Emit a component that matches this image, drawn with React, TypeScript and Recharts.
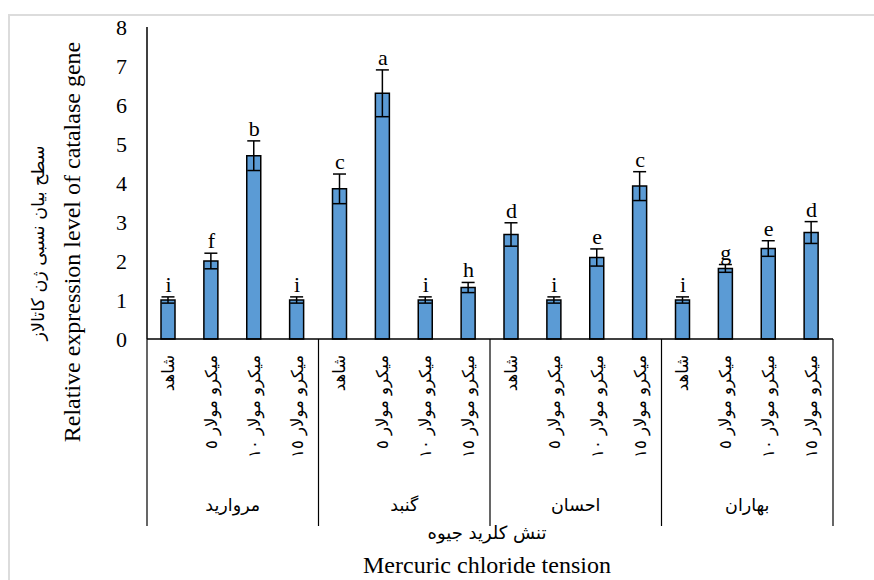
import React from 'react';
import { BarChart, Bar, Line, XAxis, YAxis, ErrorBar, LabelList } from 'recharts';

// cultivars (groups) and mercuric chloride treatments
const groups = ['مروارید', 'گنبد', 'احسان', 'بهاران'];
const treatments = ['شاهد', 'میکرو مولار ٥', 'میکرو مولار ١٠', 'میکرو مولار ١٥'];

// relative expression, standard error and Duncan letters, in group order
const expression = [1.0, 2.0, 4.7, 1.0, 3.85, 6.3, 1.0, 1.32, 2.68, 1.0, 2.09, 3.92, 1.0, 1.81, 2.32, 2.73];
const errors = [0.08, 0.2, 0.38, 0.08, 0.38, 0.6, 0.08, 0.13, 0.3, 0.08, 0.22, 0.37, 0.08, 0.1, 0.2, 0.28];
const letters = ['i', 'f', 'b', 'i', 'c', 'a', 'i', 'h', 'd', 'i', 'e', 'c', 'i', 'g', 'e', 'd'];

const yTicks = [0, 1, 2, 3, 4, 5, 6, 7, 8];

const SERIF = '"Liberation Serif", "Times New Roman", serif';
const PERSIAN = '"DejaVu Sans", sans-serif';

const W = 874;
const H = 580;
const MARGIN = { top: 27, right: 41, left: 0, bottom: 0 };
const Y_AXIS_W = 147;
const TICK_AXIS_H = 150;
const GROUP_AXIS_H = 91;
const PLOT_W = W - MARGIN.left - MARGIN.right - Y_AXIS_W;

const data = expression.map((v, i) => ({
  key: `${groups[Math.floor(i / 4)]}-${i % 4}`,
  group: groups[Math.floor(i / 4)],
  treatment: treatments[i % 4],
  value: v,
  err: errors[i],
  top: v + errors[i],
  letter: letters[i],
}));

const TreatmentTick = (props: any) => {
  const { x, y, index } = props;
  const label = data[index] ? data[index].treatment : '';
  const ty = y + 16;
  return (
    <text
      x={x}
      y={ty}
      transform={`rotate(-90, ${x}, ${ty})`}
      textAnchor="end"
      dominantBaseline="central"
      fontFamily={PERSIAN}
      fontSize={16.5}
      fill="#000"
    >
      {label}
    </text>
  );
};

const GroupTick = (props: any) => {
  const { x, y, index } = props;
  const half = PLOT_W / groups.length / 2;
  const lineTop = y - TICK_AXIS_H;
  const lineBottom = y + 37;
  return (
    <g>
      <line x1={x - half} x2={x - half} y1={lineTop} y2={lineBottom} stroke="#000" strokeWidth={1.2} />
      {index === groups.length - 1 && (
        <line x1={x + half} x2={x + half} y1={lineTop} y2={lineBottom} stroke="#000" strokeWidth={1.2} />
      )}
      <text x={x} y={y + 16} textAnchor="middle" dominantBaseline="central" fontFamily={PERSIAN} fontSize={17.5} fill="#000">
        {groups[index]}
      </text>
    </g>
  );
};

const XTitles = (props: any) => {
  const vb = props.viewBox || {};
  const cx = vb.x + vb.width / 2 - 3;
  return (
    <g>
      <text x={cx} y={vb.y + 43} textAnchor="middle" dominantBaseline="central" fontFamily={PERSIAN} fontSize={18} fill="#000">
        تنش کلرید جیوه
      </text>
      <text x={cx} y={vb.y + 76} textAnchor="middle" dominantBaseline="central" fontFamily={SERIF} fontSize={24} fill="#000">
        Mercuric chloride tension
      </text>
    </g>
  );
};

const YTitles = (props: any) => {
  const vb = props.viewBox || {};
  const cy = vb.y + 215;
  return (
    <g>
      <text x={72} y={cy} transform={`rotate(-90, 72, ${cy})`} textAnchor="middle" dominantBaseline="central" fontFamily={SERIF} fontSize={24} fill="#000">
        Relative expression level of catalase gene
      </text>
      <text x={38} y={cy + 1} transform={`rotate(-90, 38, ${cy + 1})`} textAnchor="middle" dominantBaseline="central" fontFamily={PERSIAN} fontSize={17.5} fill="#000">
        سطح بیان نسبی ژن کاتالاز
      </text>
    </g>
  );
};

export default function App() {
  return (
    <div style={{ position: 'absolute', left: 0, top: 0, width: W, height: H, background: '#fff', overflow: 'hidden' }}>
      <div
        style={{
          position: 'absolute',
          left: 8,
          top: 14,
          width: W,
          height: H,
          borderTop: '2px solid #dcdcdc',
          borderLeft: '2px solid #dcdcdc',
        }}
      />
      <div style={{ position: 'absolute', left: 0, top: 0 }}>
        <BarChart width={W} height={H} data={data} margin={MARGIN} barSize={14}>
          <YAxis
            width={Y_AXIS_W}
            domain={[0, 8]}
            ticks={yTicks}
            interval={0}
            tickLine={false}
            tickMargin={14}
            axisLine={{ stroke: '#000', strokeWidth: 1.5 }}
            tick={{ fill: '#000', fontSize: 22, fontFamily: SERIF }}
            label={YTitles}
          />
          <XAxis
            dataKey="key"
            interval={0}
            height={TICK_AXIS_H}
            tickSize={0}
            tickMargin={0}
            tickLine={false}
            axisLine={{ stroke: '#000', strokeWidth: 1.5 }}
            tick={<TreatmentTick />}
          />
          <XAxis
            xAxisId="group"
            dataKey="group"
            allowDuplicatedCategory={false}
            interval={0}
            height={GROUP_AXIS_H}
            tickSize={0}
            tickMargin={0}
            tickLine={false}
            axisLine={false}
            tick={<GroupTick />}
            label={XTitles}
          />
          <Bar dataKey="value" fill="#5B9BD5" stroke="#000" strokeWidth={1.5} isAnimationActive={false}>
            <ErrorBar dataKey="err" direction="y" width={6.5} stroke="#000" strokeWidth={1.5} />
          </Bar>
          <Line dataKey="top" stroke="none" dot={false} activeDot={false} isAnimationActive={false}>
            <LabelList dataKey="letter" position="top" offset={5} fill="#000" fontSize={22} fontFamily={SERIF} />
          </Line>
        </BarChart>
      </div>
    </div>
  );
}
